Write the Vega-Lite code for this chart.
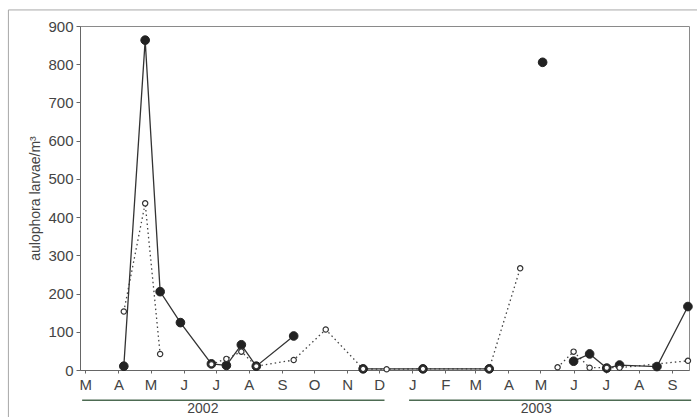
{
  "$schema": "https://vega.github.io/schema/vega-lite/v6.json",
  "width": 609,
  "height": 344,
  "autosize": {"type": "none"},
  "padding": {"left": 80, "top": 26, "right": 8, "bottom": 47},
  "background": "#ffffff",
  "config": {
    "view": {"stroke": "#8a8a8a", "strokeWidth": 1},
    "font": "Liberation Sans",
    "axis": {"labelFont": "Liberation Sans", "titleFont": "Liberation Sans", "labelColor": "#444", "titleColor": "#444", "domainColor": "#666", "tickColor": "#666", "grid": false}
  },
  "datasets": {
    "obs": [
      {"series": "A", "seg": "A1", "date": "2002-04-06", "value": 10},
      {"series": "A", "seg": "A1", "date": "2002-04-26", "value": 863},
      {"series": "A", "seg": "A1", "date": "2002-05-10", "value": 205},
      {"series": "A", "seg": "A1", "date": "2002-05-29", "value": 124},
      {"series": "A", "seg": "A1", "date": "2002-06-27", "value": 16},
      {"series": "A", "seg": "A1", "date": "2002-07-11", "value": 12},
      {"series": "A", "seg": "A1", "date": "2002-07-25", "value": 66},
      {"series": "A", "seg": "A1", "date": "2002-08-08", "value": 10},
      {"series": "A", "seg": "A1", "date": "2002-09-12", "value": 89},
      {"series": "A", "seg": "A2", "date": "2002-11-16", "value": 3},
      {"series": "A", "seg": "A2", "date": "2003-01-11", "value": 3},
      {"series": "A", "seg": "A2", "date": "2003-03-14", "value": 3},
      {"series": "A", "seg": "A3", "date": "2003-05-03", "value": 805},
      {"series": "A", "seg": "A4", "date": "2003-06-01", "value": 23},
      {"series": "A", "seg": "A4", "date": "2003-06-16", "value": 42},
      {"series": "A", "seg": "A4", "date": "2003-07-02", "value": 5},
      {"series": "A", "seg": "A4", "date": "2003-07-14", "value": 13},
      {"series": "A", "seg": "A4", "date": "2003-08-18", "value": 9},
      {"series": "A", "seg": "A4", "date": "2003-09-16", "value": 166},
      {"series": "B", "seg": "B1", "date": "2002-04-06", "value": 153},
      {"series": "B", "seg": "B1", "date": "2002-04-26", "value": 436},
      {"series": "B", "seg": "B1", "date": "2002-05-10", "value": 42},
      {"series": "B", "seg": "B2", "date": "2002-06-27", "value": 15},
      {"series": "B", "seg": "B2", "date": "2002-07-11", "value": 29},
      {"series": "B", "seg": "B2", "date": "2002-07-25", "value": 48},
      {"series": "B", "seg": "B2", "date": "2002-08-08", "value": 10},
      {"series": "B", "seg": "B2", "date": "2002-09-12", "value": 26},
      {"series": "B", "seg": "B2", "date": "2002-10-12", "value": 106},
      {"series": "B", "seg": "B2", "date": "2002-11-16", "value": 3},
      {"series": "B", "seg": "B2", "date": "2002-12-08", "value": 2},
      {"series": "B", "seg": "B2", "date": "2003-01-11", "value": 3},
      {"series": "B", "seg": "B2", "date": "2003-03-14", "value": 3},
      {"series": "B", "seg": "B2", "date": "2003-04-12", "value": 266},
      {"series": "B", "seg": "B3", "date": "2003-05-17", "value": 7},
      {"series": "B", "seg": "B3", "date": "2003-06-01", "value": 48},
      {"series": "B", "seg": "B3", "date": "2003-06-16", "value": 6},
      {"series": "B", "seg": "B3", "date": "2003-07-02", "value": 6},
      {"series": "B", "seg": "B3", "date": "2003-07-14", "value": 6},
      {"series": "B", "seg": "B3", "date": "2003-09-16", "value": 24}
    ],
    "years": [
      {"year": "2002", "start": "2002-02-26", "end": "2002-12-06", "mid": "2002-06-19", "lineLevel": -79, "textLevel": -102},
      {"year": "2003", "start": "2002-12-29", "end": "2003-09-19", "mid": "2003-04-27", "lineLevel": -79, "textLevel": -102}
    ],
    "frame": [
      {"x0": "2001-12-19", "x1": "2003-11-30", "y0": -200, "y1": 942}
    ]
  },
  "resolve": {"scale": {"x": "independent", "y": "independent"}, "axis": {"x": "independent", "y": "independent"}},
  "layer": [
    {
      "data": {"name": "obs"},
      "encoding": {
        "x": {
          "field": "date", "type": "temporal",
          "scale": {"type": "utc", "domain": [{"year": 2002, "month": 2, "date": 24, "utc": true}, {"year": 2003, "month": 9, "date": 17, "utc": true}]},
          "axis": {
            "title": null, "tickCount": {"interval": "month", "step": 1},
            "labelExpr": "slice(utcFormat(datum.value, '%b'), 0, 1)",
            "labelFontSize": 15, "tickSize": 3, "labelPadding": 4, "labelFlush": false, "labelOverlap": false
          }
        },
        "y": {
          "field": "value", "type": "quantitative",
          "scale": {"domain": [0, 900], "nice": false},
          "axis": {"title": "aulophora larvae/m³", "titleFontSize": 14, "titleFontWeight": "normal", "titlePadding": 5, "labelFontSize": 15, "tickSize": 4, "labelPadding": 3, "labelOverlap": false, "labelFlush": false, "values": [0, 100, 200, 300, 400, 500, 600, 700, 800, 900]}
        }
      },
      "layer": [
        {
          "transform": [{"filter": "datum.series === 'B'"}],
          "mark": {"type": "line", "stroke": "#444", "strokeWidth": 1.3, "strokeDash": [1.5, 3]},
          "encoding": {"detail": {"field": "seg"}}
        },
        {
          "transform": [{"filter": "datum.series === 'A'"}],
          "mark": {"type": "line", "stroke": "#333", "strokeWidth": 1.3},
          "encoding": {"detail": {"field": "seg"}}
        },
        {
          "transform": [{"filter": "datum.series === 'A'"}],
          "mark": {"type": "point", "shape": "circle", "filled": true, "fill": "#222", "stroke": "#222", "strokeWidth": 1, "size": 75, "opacity": 1}
        },
        {
          "transform": [{"filter": "datum.series === 'B'"}],
          "mark": {"type": "point", "shape": "circle", "filled": true, "fill": "#ffffff", "stroke": "#333", "strokeWidth": 1.2, "size": 28, "opacity": 1}
        }
      ]
    },
    {
      "data": {"name": "years"},
      "encoding": {
        "x": {"field": "start", "type": "temporal", "axis": null, "scale": {"type": "utc", "domain": [{"year": 2002, "month": 2, "date": 24, "utc": true}, {"year": 2003, "month": 9, "date": 17, "utc": true}]}},
        "y": {"field": "lineLevel", "type": "quantitative", "axis": null, "scale": {"domain": [0, 900], "nice": false, "zero": false}}
      },
      "layer": [
        {
          "mark": {"type": "rule", "stroke": "#4d6b52", "strokeWidth": 1.5, "clip": false},
          "encoding": {"x2": {"field": "end"}}
        },
        {
          "mark": {"type": "text", "fontSize": 14, "color": "#444", "baseline": "middle", "align": "center", "clip": false},
          "encoding": {
            "x": {"field": "mid", "type": "temporal"},
            "y": {"field": "textLevel", "type": "quantitative"},
            "text": {"field": "year"}
          }
        }
      ]
    },
    {
      "data": {"name": "frame"},
      "mark": {"type": "rect", "fill": null, "stroke": "#a8a8a8", "strokeWidth": 1, "clip": false},
      "encoding": {
        "x": {"field": "x0", "type": "temporal", "axis": null, "scale": {"type": "utc", "domain": [{"year": 2002, "month": 2, "date": 24, "utc": true}, {"year": 2003, "month": 9, "date": 17, "utc": true}]}},
        "x2": {"field": "x1"},
        "y": {"field": "y0", "type": "quantitative", "axis": null, "scale": {"domain": [0, 900], "nice": false, "zero": false}},
        "y2": {"field": "y1"}
      }
    }
  ]
}
